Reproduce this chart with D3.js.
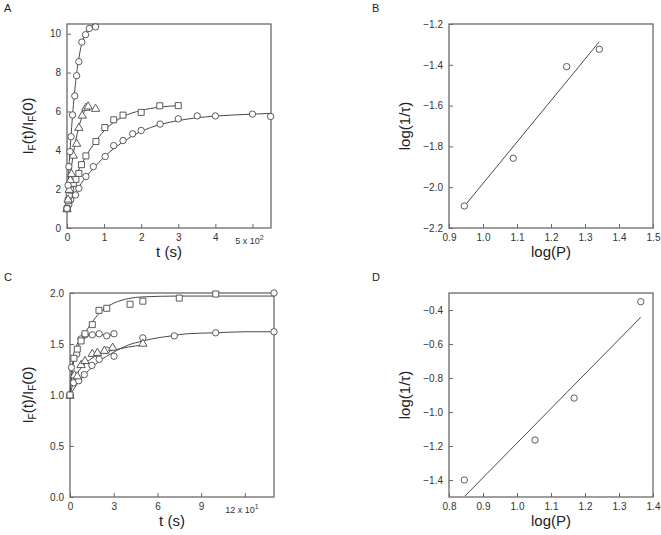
<!DOCTYPE html>
<html><head><meta charset="utf-8">
<script src="https://cdn.jsdelivr.net/npm/d3@7"></script>
<style>body{margin:0;background:#fff}svg{display:block;font-family:"Liberation Sans",Arial,sans-serif}</style>
</head><body><svg id="c" width="661" height="535"></svg>
<script>
// ---------- Panel A data (t in units of 10^2 s) ----------
const A1_t=[0,0.03,0.05,0.08,0.11,0.15,0.21,0.26,0.32,0.40,0.50,0.60,0.77];
const A1_y=[1,2.2,3.16,3.93,4.7,5.82,6.8,7.84,8.56,9.57,9.95,10.27,10.35];
const A1_fit_t=[0,0.05,0.1,0.15,0.2,0.25,0.3,0.4,0.5,0.6,0.72];
const A1_fit_y=[1,3.0,4.5,5.8,6.9,7.8,8.5,9.5,10.0,10.3,10.5];
const A2_t=[0,0.03,0.06,0.09,0.12,0.17,0.26,0.32,0.41,0.51,0.57,0.77];
const A2_y=[1,1.5,2.0,2.5,2.82,3.76,4.37,5.19,5.82,6.22,6.29,6.17];
const A2_fit_t=[0,0.05,0.1,0.15,0.2,0.3,0.4,0.5,0.6];
const A2_fit_y=[1,2.0,2.85,3.55,4.15,5.05,5.7,6.12,6.35];
const A3_t=[0,0.03,0.06,0.1,0.17,0.24,0.32,0.39,0.51,0.78,1.02,1.26,1.51,2.0,2.5,3.0];
const A3_y=[1,1.4,1.7,1.95,2.3,2.5,2.81,3.26,3.71,4.45,5.17,5.57,5.81,5.95,6.29,6.3];
const A3_fit_t=[0,0.1,0.25,0.5,0.75,1.0,1.25,1.5,2.0,2.5,3.0];
const A3_fit_y=[1,1.9,2.7,3.65,4.4,5.0,5.42,5.72,6.05,6.22,6.3];
const A4_t=[0,0.05,0.1,0.23,0.32,0.51,0.71,1.03,1.26,1.51,1.77,2.0,2.51,3.0,3.51,4.0,5.0,5.49];
const A4_y=[1,1.2,1.45,1.7,2.04,2.65,3.16,3.68,4.24,4.5,4.85,5.02,5.35,5.62,5.77,5.77,5.86,5.74];
const A4_fit_t=[0,0.1,0.25,0.5,0.75,1.0,1.5,2.0,2.5,3.0,3.5,4.0,5.0,5.5];
const A4_fit_y=[1,1.4,1.9,2.6,3.15,3.65,4.42,4.97,5.32,5.53,5.67,5.76,5.86,5.9];
const A_xTicks=[0,1,2,3,4,5], A_yTicks=[0,2,4,6,8,10];

// ---------- Panel C data (t in units of 10 s) ----------
const C1_t=[0,0.27,0.5,0.76,1.03,1.53,1.99,2.52,4.12,5.0,7.5,10.0];
const C1_y=[1,1.36,1.45,1.53,1.6,1.69,1.83,1.85,1.89,1.92,1.95,1.99];
const C1_fit_t=[0,0.25,0.5,1,1.5,2,2.5,3,4,5,7.5,10,14];
const C1_fit_y=[1,1.33,1.45,1.6,1.71,1.8,1.86,1.9,1.945,1.962,1.97,1.97,1.97];
const C1_end_t=[14], C1_end_y=[2.0];
const C2_t=[0,0.1,0.46,0.76,1.03,1.53,2.0,2.52,3.02];
const C2_y=[1,1.27,1.4,1.55,1.59,1.59,1.6,1.58,1.6];
const C2_fit_t=[0,0.1,0.25,0.5,0.75,1,1.5,2,3];
const C2_fit_y=[1,1.22,1.38,1.5,1.56,1.58,1.59,1.59,1.59];
const C3_t=[0,0.3,0.5,0.76,1.03,1.53,1.88,2.36,2.93,5.0];
const C3_y=[1,1.2,1.19,1.3,1.34,1.41,1.42,1.44,1.47,1.51];
const C3_fit_t=[0,0.25,0.5,1,1.5,2,3,4,5];
const C3_fit_y=[1,1.13,1.21,1.3,1.36,1.4,1.44,1.47,1.49];
const C4_t=[0,0.25,0.6,0.98,1.5,2.0,2.52,3.02,5.0,7.16,10.0,14.0];
const C4_y=[1,1.12,1.14,1.2,1.29,1.35,1.44,1.38,1.56,1.58,1.61,1.62];
const C4_fit_t=[0,0.5,1,1.5,2,3,4,5,6,7,8,10,12,14];
const C4_fit_y=[1,1.11,1.2,1.27,1.33,1.42,1.49,1.53,1.56,1.58,1.6,1.61,1.62,1.62];
const C_xTicks=[0,3,6,9,12], C_yTicks=[0,0.5,1.0,1.5,2.0];

// ---------- Panel B data ----------
const B_logP=[0.945,1.089,1.246,1.342];
const B_logInvTau=[-2.092,-1.858,-1.409,-1.324];
const B_fit_x=[0.952,1.342], B_fit_y=[-2.079,-1.287];
const B_xTicks=[0.9,1.0,1.1,1.2,1.3,1.4,1.5], B_yTicks=[-2.2,-2.0,-1.8,-1.6,-1.4,-1.2];

// ---------- Panel D data ----------
const D_logP=[0.845,1.053,1.168,1.364];
const D_logInvTau=[-1.40,-1.165,-0.918,-0.351];
const D_fit_x=[0.847,1.364], D_fit_y=[-1.494,-0.443];
const D_xTicks=[0.8,0.9,1.0,1.1,1.2,1.3,1.4], D_yTicks=[-1.4,-1.2,-1.0,-0.8,-0.6,-0.4];

const svg=d3.select("#c");
const INK="#4a4a4a", FRAME="#6a6a6a";

function panel(o){
  const g=svg.append("g");
  const x=d3.scaleLinear().domain(o.xd).range([o.x0,o.x1]);
  const y=d3.scaleLinear().domain(o.yd).range([o.y1,o.y0]);
  const xa=d3.axisBottom(x).tickValues(o.xt).tickSize(-4).tickPadding(6).tickFormat(o.xf);
  const ya=d3.axisLeft(y).tickValues(o.yt).tickSize(-4).tickPadding(6).tickFormat(o.yf);
  const gx=g.append("g").attr("transform",`translate(0,${o.y1})`).call(xa);
  const gy=g.append("g").attr("transform",`translate(${o.x0},0)`).call(ya);
  [gx,gy].forEach(a=>{a.select(".domain").remove();
    a.selectAll("line").attr("stroke",FRAME);
    a.selectAll("text").attr("fill","#333").style("font-size","10px").style("font-family","Liberation Sans, Arial, sans-serif");});
  if(o.xlast){
    gx.selectAll(".tick").filter(d=>d===o.xlast.v).select("text").remove();
    const t=g.append("text").attr("x",x(o.xlast.v)-3).attr("y",o.y1+16).attr("text-anchor","middle")
      .attr("fill","#333").style("font-size","9px");
    t.append("tspan").text(o.xlast.txt);
    t.append("tspan").attr("dy",-4).style("font-size","7px").text(o.xlast.exp);
  }
  g.append("rect").attr("x",o.x0).attr("y",o.y0).attr("width",o.x1-o.x0).attr("height",o.y1-o.y0)
    .attr("fill","none").attr("stroke",FRAME).attr("stroke-width",1.3);
  g.append("text").attr("x",o.lx).attr("y",o.ly).text(o.letter).style("font-size","11px").attr("fill","#222");
  g.append("text").attr("x",(o.x0+o.x1)/2).attr("y",o.y1+29).attr("text-anchor","middle")
    .style("font-size","15px").attr("fill","#222").text(o.xtitle);
  const yt=g.append("text").attr("transform",`translate(${o.ytx},${(o.y0+o.y1)/2}) rotate(-90)`)
    .attr("text-anchor","middle").style("font-size","15px").attr("fill","#222");
  o.ytitle(yt);
  return {g,x,y};
}
function fitLine(p,xs,ys,curve){
  p.g.append("path").datum(xs.map((v,i)=>[v,ys[i]]))
   .attr("d",d3.line().x(d=>p.x(d[0])).y(d=>p.y(d[1])).curve(curve||d3.curveMonotoneX))
   .attr("fill","none").attr("stroke",INK).attr("stroke-width",1);
}
function markers(p,xs,ys,shape){
  const data=xs.map((v,i)=>[v,ys[i]]);
  const sym={circle:d3.symbolCircle,square:d3.symbolSquare,triangle:d3.symbolTriangle}[shape];
  const size={circle:32,square:36,triangle:30}[shape];
  p.g.append("g").selectAll("path").data(data).join("path")
    .attr("transform",d=>`translate(${p.x(d[0])},${p.y(d[1])+(shape==="triangle"?0.8:0)})`)
    .attr("d",d3.symbol().type(sym).size(size))
    .attr("fill","white").attr("stroke",INK).attr("stroke-width",0.9);
}
function ifTitle(t){
  t.append("tspan").text("I");
  t.append("tspan").attr("baseline-shift","-25%").style("font-size","10px").text("F");
  t.append("tspan").text("(t)/I");
  t.append("tspan").attr("baseline-shift","-25%").style("font-size","10px").text("F");
  t.append("tspan").text("(0)");
}
const fmt1=d3.format(".1f");

const pA=panel({x0:67,x1:271,y0:24,y1:228,xd:[0,5.5],yd:[0,10.5],xt:A_xTicks,yt:A_yTicks,
  xf:d3.format("d"),yf:d3.format("d"),xlast:{v:5,txt:"5 x 10",exp:"2"},letter:"A",lx:4,ly:12,
  xtitle:"t (s)",ytx:33,ytitle:ifTitle});
fitLine(pA,A4_fit_t,A4_fit_y); fitLine(pA,A3_fit_t,A3_fit_y); fitLine(pA,A2_fit_t,A2_fit_y); fitLine(pA,A1_fit_t,A1_fit_y);
markers(pA,A4_t,A4_y,"circle"); markers(pA,A3_t,A3_y,"square"); markers(pA,A2_t,A2_y,"triangle"); markers(pA,A1_t,A1_y,"circle");

const pB=panel({x0:449,x1:653,y0:24,y1:228,xd:[0.9,1.5],yd:[-2.2,-1.2],xt:B_xTicks,yt:B_yTicks,
  xf:fmt1,yf:fmt1,letter:"B",lx:372,ly:12,xtitle:"log(P)",ytx:410,ytitle:t=>t.text("log(1/τ)")});
fitLine(pB,B_fit_x,B_fit_y,d3.curveLinear); markers(pB,B_logP,B_logInvTau,"circle");

const pC=panel({x0:70,x1:274,y0:293,y1:497,xd:[0,14],yd:[0,2.0],xt:C_xTicks,yt:C_yTicks,
  xf:d3.format("d"),yf:fmt1,xlast:{v:12,txt:"12 x 10",exp:"1"},letter:"C",lx:4,ly:281,
  xtitle:"t (s)",ytx:33,ytitle:ifTitle});
fitLine(pC,C4_fit_t,C4_fit_y); fitLine(pC,C3_fit_t,C3_fit_y); fitLine(pC,C2_fit_t,C2_fit_y); fitLine(pC,C1_fit_t,C1_fit_y);
markers(pC,C4_t,C4_y,"circle"); markers(pC,C3_t,C3_y,"triangle"); markers(pC,C2_t,C2_y,"circle"); markers(pC,C1_t,C1_y,"square"); markers(pC,C1_end_t,C1_end_y,"circle");

const pD=panel({x0:449,x1:653,y0:293,y1:497,xd:[0.8,1.4],yd:[-1.5,-0.3],xt:D_xTicks,yt:D_yTicks,
  xf:fmt1,yf:fmt1,letter:"D",lx:372,ly:281,xtitle:"log(P)",ytx:410,ytitle:t=>t.text("log(1/τ)")});
fitLine(pD,D_fit_x,D_fit_y,d3.curveLinear); markers(pD,D_logP,D_logInvTau,"circle");
</script></body></html>
